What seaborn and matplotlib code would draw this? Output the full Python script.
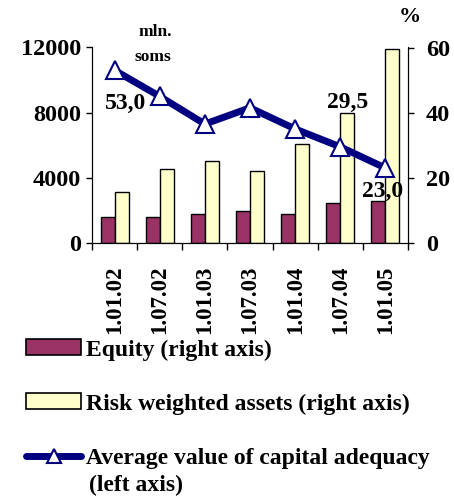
import numpy as np
import pandas as pd
import matplotlib
matplotlib.use("Agg")
import matplotlib.pyplot as plt
from matplotlib.patches import Patch
from matplotlib.lines import Line2D
import seaborn as sns

# data
dates = ["1.01.02", "1.07.02", "1.01.03", "1.07.03", "1.01.04", "1.07.04", "1.01.05"]
equity = [1600, 1600, 1800, 1950, 1800, 2450, 2600]
rwa = [3100, 4550, 5050, 4400, 6100, 7950, 11900]
adequacy = [53.0, 45.0, 36.5, 41.5, 35.0, 29.5, 23.0]
labelled = {0: "53,0", 5: "29,5", 6: "23,0"}

EQ_COLOR = "#993366"
RWA_COLOR = "#FFFFCC"
LINE_COLOR = "#000080"

sns.set_style("ticks")
plt.rcParams["font.family"] = ["Liberation Serif", "DejaVu Serif"]
plt.rcParams["font.weight"] = "bold"
plt.rcParams["text.color"] = "black"
plt.rcParams["xtick.color"] = "black"
plt.rcParams["ytick.color"] = "black"
plt.rcParams["axes.edgecolor"] = "black"

long = pd.DataFrame({
    "date": dates * 2,
    "series": ["Equity"] * len(dates) + ["RWA"] * len(dates),
    "value": equity + rwa,
})

fig = plt.figure(figsize=(4.54, 4.99), dpi=100)
ax = fig.add_axes([92 / 454, 1 - 243 / 499, (408 - 92) / 454, (243 - 47.5) / 499])

sns.barplot(data=long, x="date", y="value", hue="series", order=dates,
            palette={"Equity": EQ_COLOR, "RWA": RWA_COLOR}, width=0.62,
            edgecolor="black", linewidth=1, legend=False, ax=ax, saturation=1)

ax.set_ylim(0, 12000)
ax.set_yticks([0, 4000, 8000, 12000])
ax.set_xlim(-0.5, len(dates) - 0.5)
ax.set_xticks(np.arange(len(dates)))
ax.set_xticklabels(dates, rotation=90, fontsize=16.5, fontweight="bold")
ax.set_xticks(np.arange(len(dates) + 1) - 0.5, minor=True)
ax.tick_params(axis="x", which="major", length=0, pad=16)
ax.tick_params(axis="x", which="minor", length=5, width=1, direction="out")
ax.tick_params(axis="y", length=4, width=1, pad=4, labelsize=17.5)
ax.set_xlabel("")
ax.set_ylabel("")
for lab in ax.get_yticklabels():
    lab.set_fontweight("bold")
ax.spines["top"].set_visible(False)

ax2 = ax.twinx()
sns.lineplot(x=np.arange(len(dates)), y=adequacy, ax=ax2, color=LINE_COLOR,
             linewidth=5, marker="^", markersize=13, markerfacecolor="white",
             markeredgecolor=LINE_COLOR, markeredgewidth=1.5)
ax2.set_ylim(0, 60)
ax2.set_yticks([0, 20, 40, 60])
ax2.tick_params(axis="y", length=4, width=1, pad=9, labelsize=17.5)
for lab in ax2.get_yticklabels():
    lab.set_fontweight("bold")
ax2.spines["top"].set_visible(False)
ax2.grid(False)
ax.grid(False)

offsets = {0: (8, -24), 5: (5, 32), 6: (-2, -17)}
for i, txt in labelled.items():
    ax2.annotate(txt, (i, adequacy[i]), xytext=offsets[i], textcoords="offset points",
                 ha="center", va="center", fontsize=17, fontweight="bold")

fig.text(155 / 454, 1 - 32 / 499, "mln.", ha="center", va="center", fontsize=12.5, fontweight="bold")
fig.text(153 / 454, 1 - 57 / 499, "soms", ha="center", va="center", fontsize=12.5, fontweight="bold")
fig.text(410 / 454, 1 - 17 / 499, "%", ha="center", va="center", fontsize=16, fontweight="bold")

# legend: one entry per row, placed like the original
handles = [
    Patch(facecolor=EQ_COLOR, edgecolor="black", linewidth=1.2),
    Patch(facecolor=RWA_COLOR, edgecolor="black", linewidth=1.2),
    Line2D([], [], color=LINE_COLOR, linewidth=5, marker="^", markersize=10,
           markerfacecolor="white", markeredgecolor=LINE_COLOR, markeredgewidth=1.5),
]
labels = ["Equity (right axis)", "Risk weighted assets (right axis)",
          "Average value of capital adequacy"]
rows_y = [350, 404, 458]
for h, lab, y in zip(handles, labels, rows_y):
    fig.legend([h], [lab], loc="center left", bbox_to_anchor=(26 / 454, 1 - y / 499),
               frameon=False, prop={"size": 17, "weight": "bold"}, handlelength=2.35,
               handleheight=0.65, handletextpad=0.2, borderpad=0, borderaxespad=0)
fig.text(89 / 454, 1 - 485 / 499, "(left axis)", ha="left", va="center",
         fontsize=17, fontweight="bold")

fig.savefig("out.png", dpi=100)
